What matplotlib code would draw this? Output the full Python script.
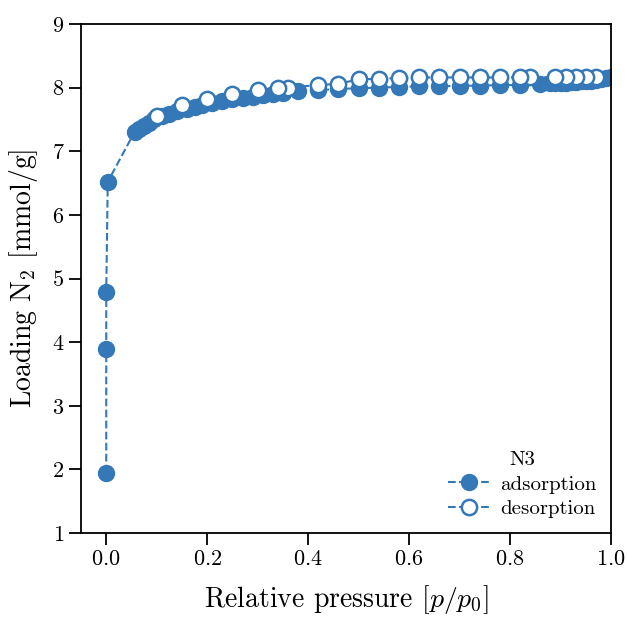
import matplotlib
matplotlib.use('Agg')
import matplotlib.pyplot as plt

plt.rcParams['font.family'] = 'serif'
plt.rcParams['font.serif'] = ['cmr10', 'DejaVu Serif']
plt.rcParams['mathtext.fontset'] = 'cm'
plt.rcParams['axes.formatter.use_mathtext'] = True

BLUE = '#3478b8'

# adsorption branch (p/p0, loading mmol/g)
ads_p = [0.0, 0.0, 0.0, 0.003, 0.056, 0.065, 0.075, 0.085, 0.095, 0.11, 0.125,
         0.14, 0.16, 0.175, 0.19, 0.21, 0.23, 0.25, 0.27, 0.29, 0.31, 0.33,
         0.35, 0.38, 0.42, 0.46, 0.50, 0.54, 0.58, 0.62, 0.66, 0.70, 0.74,
         0.78, 0.82, 0.86, 0.88, 0.89, 0.90, 0.91, 0.92, 0.93, 0.94, 0.95,
         0.96, 0.97, 0.98, 0.99, 1.0]
ads_q = [1.95, 3.89, 4.78, 6.52, 7.30, 7.35, 7.40, 7.45, 7.50, 7.55, 7.59,
         7.63, 7.67, 7.70, 7.73, 7.76, 7.79, 7.82, 7.84, 7.86, 7.88, 7.90,
         7.91, 7.94, 7.96, 7.98, 7.99, 8.00, 8.01, 8.02, 8.02, 8.03, 8.03,
         8.04, 8.04, 8.06, 8.07, 8.07, 8.08, 8.08, 8.09, 8.09, 8.10, 8.10,
         8.11, 8.12, 8.13, 8.15, 8.17]

# desorption branch
des_p = [0.97, 0.95, 0.93, 0.91, 0.89, 0.84, 0.82, 0.78, 0.74, 0.70, 0.66,
         0.62, 0.58, 0.54, 0.50, 0.46, 0.42, 0.36, 0.34, 0.30, 0.25, 0.20,
         0.15, 0.10]
des_q = [8.17, 8.17, 8.17, 8.17, 8.16, 8.16, 8.16, 8.16, 8.16, 8.16, 8.16,
         8.16, 8.15, 8.14, 8.13, 8.06, 8.04, 8.00, 7.99, 7.96, 7.90, 7.82,
         7.73, 7.56]

fig = plt.figure(figsize=(6.27, 6.20), dpi=100)
ax = fig.add_axes([81 / 627, 1 - 533 / 620, 530 / 627, 509 / 620])

ax.plot(ads_p, ads_q, '--o', color=BLUE, lw=1.5, ms=11.5, mec=BLUE,
        label='adsorption', zorder=2)
ax.plot(des_p, des_q, '--o', color=BLUE, lw=1.5, ms=11, mfc='white',
        mec=BLUE, mew=1.8, label='desorption', zorder=3)

ax.set_xlim(-0.05, 1.0)
ax.set_ylim(1, 9)
ax.set_xticks([0.0, 0.2, 0.4, 0.6, 0.8, 1.0])
ax.set_yticks(range(1, 10))
ax.tick_params(direction='out', length=8.5, width=1.3, labelsize=16)
for s in ax.spines.values():
    s.set_linewidth(1.3)

ax.set_xlabel(r'Relative pressure [$p/p_{\mathit{0}}$]', fontsize=20, labelpad=10)
ax.set_ylabel(r'Loading N$_2$ [mmol/g]', fontsize=20, labelpad=8)

leg = ax.legend(title='N3', loc='lower right', frameon=False, fontsize=15,
                title_fontsize=15, handlelength=2.0, handletextpad=0.5,
                labelspacing=0.3, borderaxespad=0.3)

fig.savefig('out.png', dpi=100)
